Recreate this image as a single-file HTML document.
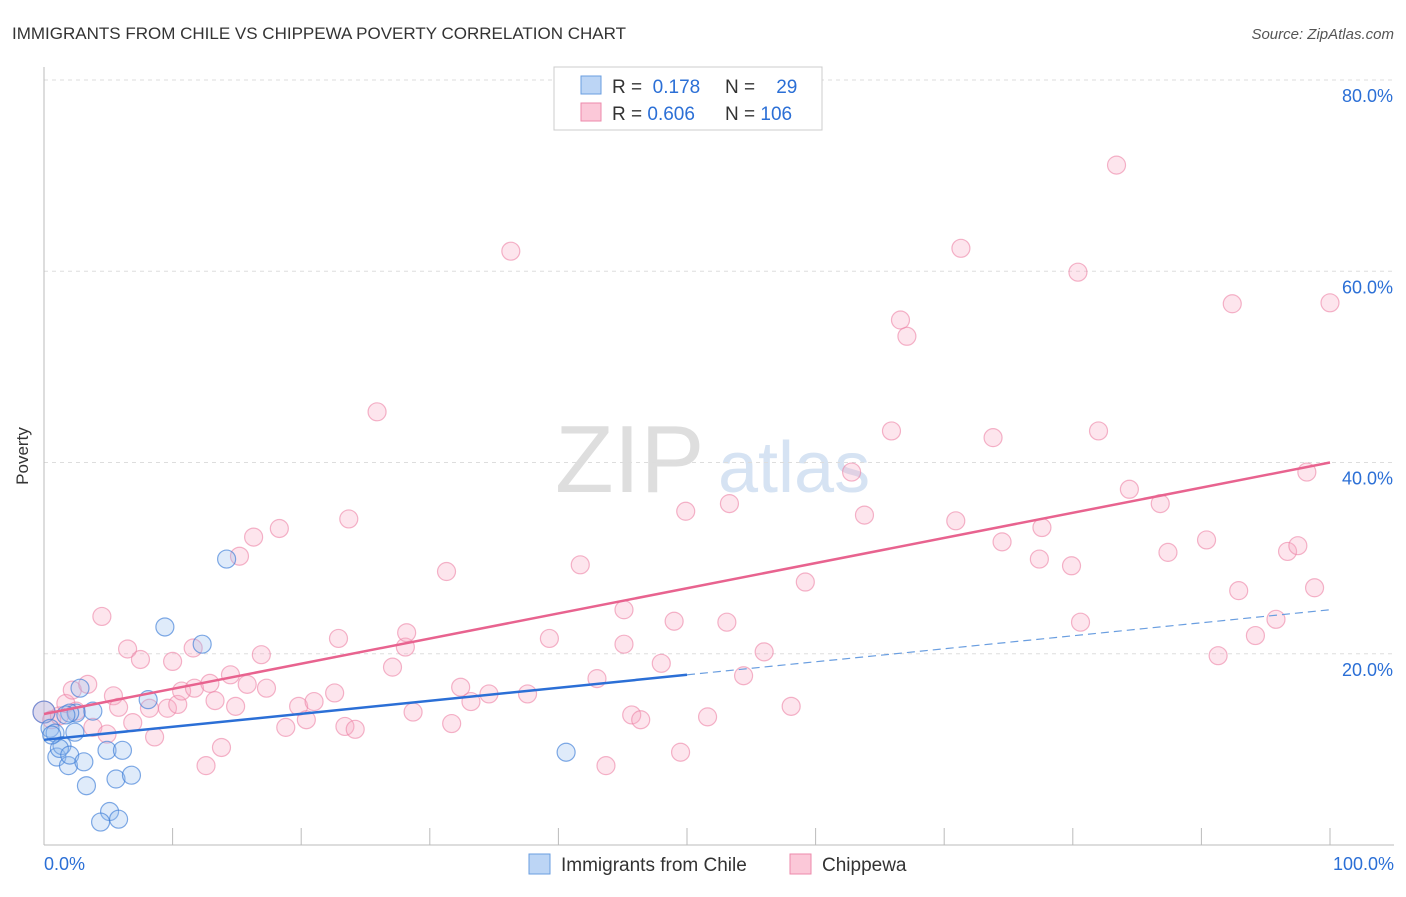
<!DOCTYPE html>
<html><head><meta charset="utf-8"><style>
body{margin:0;background:#fff;font-family:"Liberation Sans",sans-serif}
svg text{font-family:"Liberation Sans",sans-serif}
</style></head><body>
<svg id="chart" width="1406" height="892" xmlns="http://www.w3.org/2000/svg">
<text x="12" y="39" font-size="17" fill="#333">IMMIGRANTS FROM CHILE VS CHIPPEWA POVERTY CORRELATION CHART</text>
<text x="1394" y="39" font-size="15" fill="#555" text-anchor="end" font-style="italic">Source: ZipAtlas.com</text>
<text x="28" y="456" font-size="17" fill="#333" text-anchor="middle" transform="rotate(-90 28 456)">Poverty</text>
<text x="555" y="492" font-size="96" fill="#dedede" font-family="Liberation Serif">ZIP</text>
<text x="718" y="492" font-size="72" fill="#d6e3f3">atlas</text>
<g id="grid"></g><g id="axes"></g><g id="points"></g><g id="trends"></g>
<g>
<rect x="554" y="67" width="268" height="63" fill="#fff" stroke="#ccc"/>
<rect x="581" y="76" width="20" height="18" fill="#bcd5f5" stroke="#6a9ee0"/>
<rect x="581" y="103" width="20" height="18" fill="#fbc8d8" stroke="#ec8aab"/>
<text x="612" y="93" font-size="19" fill="#333">R = <tspan fill="#2b6fd6">&#160;0.178</tspan></text>
<text x="725" y="93" font-size="19" fill="#333">N = <tspan fill="#2b6fd6">&#160;&#160;&#160;29</tspan></text>
<text x="612" y="120" font-size="19" fill="#333">R = <tspan fill="#2b6fd6">0.606</tspan></text>
<text x="725" y="120" font-size="19" fill="#333">N = <tspan fill="#2b6fd6">106</tspan></text>
</g>
<g>
<rect x="529" y="854" width="21" height="20" fill="#bcd5f5" stroke="#6a9ee0"/>
<text x="561" y="871" font-size="19" fill="#333">Immigrants from Chile</text>
<rect x="790" y="854" width="21" height="20" fill="#fbc8d8" stroke="#ec8aab"/>
<text x="822" y="871" font-size="19" fill="#333">Chippewa</text>
</g>
</svg>
<script>
const yTicks=[20,40,60,80];
const yTickLabels=["20.0%","40.0%","60.0%","80.0%"];
const xTickLabels=["0.0%","100.0%"];
const chileX=[0,0.47,0.86,1.0,1.4,1.2,1.9,2.0,2.4,2.5,2.8,3.1,3.3,3.8,4.9,5.1,5.6,4.4,5.8,6.1,6.8,8.1,9.4,12.3,14.2,40.6,2.0,1.7,0.6];
const chileY=[13.9,12.2,11.7,9.2,10.4,10.1,8.3,9.4,11.8,13.8,16.4,8.7,6.2,14.0,9.9,3.5,6.9,2.4,2.7,9.9,7.3,15.2,22.8,21.0,29.9,9.7,13.8,13.6,11.5];
const chipX=[0,0.6,1.2,1.7,2.2,2.5,3.4,4.5,3.8,4.9,5.4,5.8,6.5,6.9,7.5,8.2,8.6,9.6,10.0,10.4,10.7,11.6,11.7,12.6,12.9,13.3,13.8,14.5,14.9,15.2,15.8,16.3,16.9,17.3,18.3,18.8,19.8,20.4,21.0,22.6,22.9,23.4,23.7,24.2,25.9,27.1,28.1,28.2,28.7,31.3,31.7,32.4,33.2,34.6,36.3,37.6,39.3,41.7,43.0,43.7,45.1,45.1,45.7,46.4,48.0,49.0,49.5,49.9,51.6,53.1,53.3,54.4,56.0,58.1,59.2,62.8,63.8,65.9,66.6,67.1,70.9,71.3,73.8,74.5,77.4,77.6,79.9,80.4,80.6,82.0,84.4,83.4,86.8,87.4,90.4,91.3,92.4,92.9,94.2,95.8,96.7,97.5,98.2,98.8,100];
const chipY=[13.9,13.1,13.5,14.8,16.2,14.0,16.8,23.9,12.3,11.6,15.6,14.4,20.5,12.8,19.4,14.3,11.3,14.3,19.2,14.7,16.1,20.6,16.4,8.3,16.9,15.1,10.2,17.8,14.5,30.2,16.8,32.2,19.9,16.4,33.1,12.3,14.5,13.1,15.0,15.9,21.6,12.4,34.1,12.1,45.3,18.6,20.7,22.2,13.9,28.6,12.7,16.5,15.0,15.8,62.1,15.8,21.6,29.3,17.4,8.3,24.6,21.0,13.6,13.1,19.0,23.4,9.7,34.9,13.4,23.3,35.7,17.7,20.2,14.5,27.5,39.0,34.5,43.3,54.9,53.2,33.9,62.4,42.6,31.7,29.9,33.2,29.2,59.9,23.3,43.3,37.2,71.1,35.7,30.6,31.9,19.8,56.6,26.6,21.9,23.6,30.7,31.3,39.0,26.9,56.7];
const chileTrend=[11.0,24.6];
const chileSolidEnd=50;
const chipTrend=[13.7,40.0];

const NS="http://www.w3.org/2000/svg";
const X0=44,X1=1330,Y0=845,Y80=80;
const sx=v=>X0+(X1-X0)*v/100;
const sy=v=>Y0-(Y0-Y80)*v/80;
function mk(tag,attrs,parent){const e=document.createElementNS(NS,tag);for(const k in attrs)e.setAttribute(k,attrs[k]);document.getElementById(parent).appendChild(e);return e;}

yTicks.forEach((t,i)=>{
  const g=mk('line',{x1:44,x2:1394,y1:sy(t),y2:sy(t),stroke:'#ddd','stroke-dasharray':'4,4'},'grid');
  
  
  const l=mk('text',{x:1393,y:sy(t)+22,'font-size':18,fill:'#2b6fd6','text-anchor':'end'},'grid');
  l.textContent=yTickLabels[i];
  
  
});
const ya=mk('line',{x1:44,x2:44,y1:67,y2:845,stroke:'#bbb'},'axes');


const xa=mk('line',{x1:44,x2:1394,y1:845,y2:845,stroke:'#bbb'},'axes');


for(let i=0;i<=10;i++){
  const t=mk('line',{x1:sx(i*10),x2:sx(i*10),y1:828,y2:845,stroke:'#bbb'},'axes');
  
  
}
[[0,'start',44],[100,'end',1394]].forEach((d,i)=>{
  const l=mk('text',{x:d[2],y:870,'font-size':18,fill:'#2b6fd6','text-anchor':d[1]},'axes');
  l.textContent=xTickLabels[i];
  
  
});

chipX.forEach((x,i)=>{
  const c=mk('circle',{cx:sx(x),cy:sy(chipY[i]),r:i===0?11:9,fill:'rgba(248,170,195,0.3)',stroke:'rgba(236,130,165,0.6)','stroke-width':1.2},'points');
  
  
});
chileX.forEach((x,i)=>{
  const c=mk('circle',{cx:sx(x),cy:sy(chileY[i]),r:i===0?11:9,fill:'rgba(150,190,240,0.3)',stroke:'rgba(60,125,215,0.65)','stroke-width':1.2},'points');
  
  
});
const cy=x=>chileTrend[0]+(chileTrend[1]-chileTrend[0])*x/100;
const t1=mk('line',{x1:sx(0),y1:sy(cy(0)),x2:sx(chileSolidEnd),y2:sy(cy(chileSolidEnd)),stroke:'#2b6fd6','stroke-width':2.5},'trends');


const t2=mk('line',{x1:sx(chileSolidEnd),y1:sy(cy(chileSolidEnd)),x2:sx(100),y2:sy(cy(100)),stroke:'#6a9ee0','stroke-width':1.2,'stroke-dasharray':'8,5'},'trends');


const t3=mk('line',{x1:sx(0),y1:sy(chipTrend[0]),x2:sx(100),y2:sy(chipTrend[1]),stroke:'#e8638f','stroke-width':2.5},'trends');


</script>
</body></html>
